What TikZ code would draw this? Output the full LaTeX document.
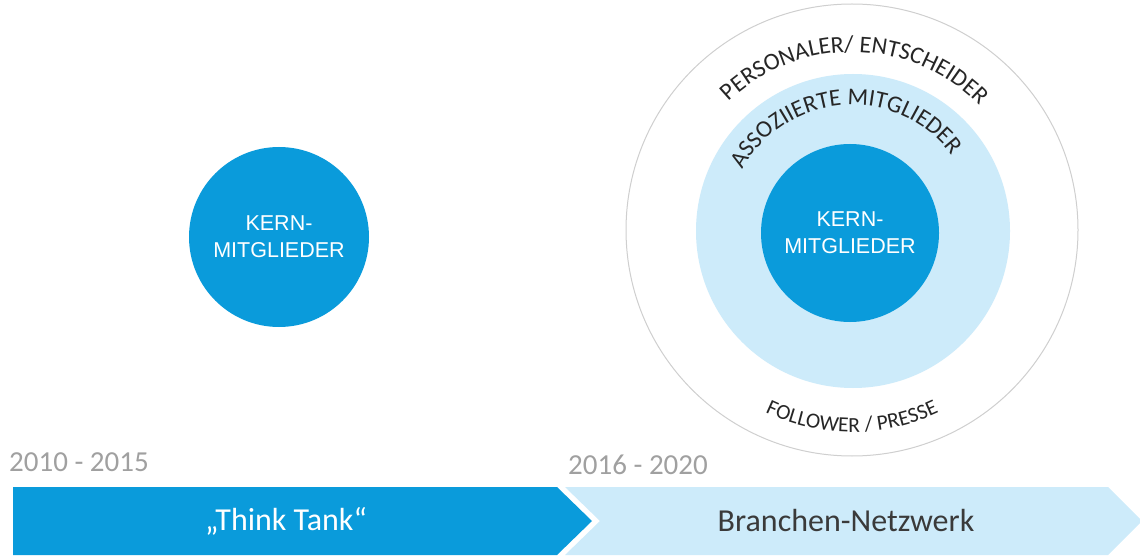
\documentclass[tikz,border=0pt]{standalone}
\usepackage{fontspec}
\setmainfont{Carlito}
\newfontfamily\arialf{Liberation Sans}
\usetikzlibrary{decorations.text}
\definecolor{blueD}{HTML}{0A9BDB}
\definecolor{lightB}{HTML}{CDEBFA}
\definecolor{ringgrey}{HTML}{CFCFCF}
\definecolor{yeargrey}{HTML}{A0A0A0}
\definecolor{txtD}{HTML}{262626}
\definecolor{txtB}{HTML}{3A3A3A}
\begin{document}
\begin{tikzpicture}[x=1pt,y=1pt,
  core/.style={circle, fill=blueD, inner sep=0pt, minimum size=#1, text=white,
    font=\arialf\fontsize{21.5}{27}\selectfont, align=center},
  yearlbl/.style={anchor=west, inner sep=0pt, text=yeargrey, font=\fontsize{29}{29}\selectfont},
  phaselbl/.style={inner sep=0pt, font=\fontsize{32}{32}\selectfont},
  arctext/.style={decorate, decoration={text along path, text align=center, text color=txtD, text={#1}}}
]
\useasboundingbox (0,0) rectangle (1140,555);
% rings
\node[circle, draw=ringgrey, line width=1pt, fill=white, minimum size=452pt, inner sep=0pt] (outer) at (852,325) {};
\node[circle, fill=lightB, minimum size=314pt, inner sep=0pt] (assoc) at (853,324) {};
\node[core=178pt] (core2) at (850,322) {KERN-\\MITGLIEDER};
\node[core=180pt] (core1) at (279,318) {KERN-\\MITGLIEDER};
% curved labels
\path[arctext={|\fontsize{24}{24}\selectfont|PERSONALER/ ENTSCHEIDER}]
  ([shift={(150:178)}]outer.center) arc[start angle=150, end angle=28, radius=178];
\path[arctext={|\fontsize{24}{24}\selectfont|ASSOZIIERTE MITGLIEDER}]
  ([shift={(170:125)}]outer.center) arc[start angle=170, end angle=18, radius=125];
\path[arctext={|\fontsize{21.5}{21.5}\selectfont|FOLLOWER / PRESSE}]
  ([shift={(-135:202)}]outer.center) arc[start angle=-135, end angle=-45, radius=202];
% timeline chevrons
\fill[blueD] (13,68) -- (557,68) -- (592,34) -- (557,0) -- (13,0) -- cycle;
\fill[lightB] (565,68) -- (1108,68) -- (1142,34) -- (1108,0) -- (565,0) -- (600,34) -- cycle;
\node[phaselbl, text=white] (think) at (286,34) {„Think Tank“};
\node[phaselbl, text=txtB] (netz) at (846,34) {Branchen-Netzwerk};
% years
\node[yearlbl] (y1) at (9,93) {2010 - 2015};
\node[yearlbl] (y2) at (568,90) {2016 - 2020};
\end{tikzpicture}
\end{document}
